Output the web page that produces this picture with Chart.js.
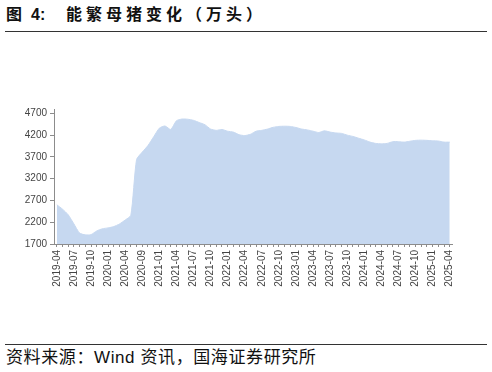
<!DOCTYPE html>
<html>
<head>
<meta charset="utf-8">
<script src="https://cdn.jsdelivr.net/npm/chart.js@4.4.1/dist/chart.umd.min.js"></script>
<style>
  html, body { margin: 0; padding: 0; background: #fff; }
  body { width: 492px; height: 372px; position: relative; overflow: hidden;
         font-family: "Liberation Sans", "Noto Sans CJK SC", sans-serif; }
  .title { position: absolute; top: 5px; font-size: 16px; font-weight: bold; color: #111;
           white-space: nowrap; line-height: 20px;
           font-family: "Liberation Sans", "Noto Sans CJK SC", sans-serif; }
  .rule { position: absolute; left: 5px; width: 482px; height: 1px; background: #333; }
  #source { position: absolute; left: 6px; top: 347px; font-size: 17px; color: #111; white-space: nowrap;
            letter-spacing: 0.6px; line-height: 22px;
            font-family: "Liberation Sans", "Noto Sans CJK SC", sans-serif; }
  #wrap { position: absolute; left: 0; top: 100px; width: 470px; height: 194px; }
</style>
</head>
<body>
<div class="title" style="left:6px">图</div>
<div class="title" style="left:31px">4:</div>
<div class="title" style="left:66px; letter-spacing:4px">能繁母猪变化（万头）</div>
<div class="rule" style="top:31px"></div>
<div id="wrap"><canvas id="sowChart"></canvas></div>
<div class="rule" style="top:344px"></div>
<div id="source">资料来源：Wind 资讯，国海证券研究所</div>

<script>
/* ====== DATA ====== */
const months = [
  '2019-04','2019-05','2019-06','2019-07','2019-08','2019-09','2019-10','2019-11','2019-12',
  '2020-01','2020-02','2020-03','2020-04','2020-06','2020-08','2020-09','2020-10','2020-12',
  '2021-01','2021-02','2021-03','2021-04','2021-05','2021-06','2021-07','2021-08','2021-09',
  '2021-10','2021-11','2021-12','2022-01','2022-02','2022-03','2022-04','2022-05','2022-06',
  '2022-07','2022-08','2022-09','2022-10','2022-11','2022-12','2023-01','2023-02','2023-03',
  '2023-04','2023-05','2023-06','2023-07','2023-08','2023-09','2023-10','2023-11','2023-12',
  '2024-01','2024-02','2024-03','2024-04','2024-05','2024-06','2024-07','2024-08','2024-09',
  '2024-10','2024-11','2024-12','2025-01','2025-02','2025-03','2025-04'
];
const sowStock = [
  2600, 2500, 2370, 2160, 1950, 1910, 1915, 2000, 2050,
  2070, 2100, 2160, 2250, 2360, 3640, 3810, 3960, 4160,
  4360, 4410, 4330, 4530, 4570, 4565, 4540, 4490, 4440,
  4340, 4310, 4330, 4290, 4270, 4210, 4190, 4220, 4290,
  4310, 4340, 4380, 4400, 4405, 4400, 4375, 4340, 4320,
  4290, 4260, 4300, 4270, 4250, 4240, 4200, 4170, 4130,
  4090, 4040, 4010, 4000, 4010, 4050, 4050, 4040, 4060,
  4080, 4085, 4080, 4070, 4065, 4040, 4040
];
const yTicks = [1700, 2200, 2700, 3200, 3700, 4200, 4700];
const labelEvery = 3;

/* ====== CHART ====== */
const axisGrey = '#8c8c8c';
const tickFont = { family: 'Liberation Sans', size: 10 };

new Chart(document.getElementById('sowChart').getContext('2d'), {
  type: 'line',
  data: {
    datasets: [{
      label: '能繁母猪存栏（万头）',
      data: sowStock.map((v, i) => ({ x: i, y: v })),
      borderColor: '#c6d8f0',
      backgroundColor: '#c6d8f0',
      borderWidth: 1,
      fill: 'start',
      pointRadius: 0,
      tension: 0.2
    }]
  },
  options: {
    responsive: true,
    maintainAspectRatio: false,
    animation: false,
    layout: { padding: { top: 8, right: 18, left: 0, bottom: 0 } },
    plugins: { legend: { display: false }, tooltip: { enabled: false } },
    scales: {
      x: {
        type: 'linear',
        min: -0.5,
        max: months.length - 0.6,
        afterBuildTicks: axis => { axis.ticks = months.map((m, i) => ({ value: i })); },
        afterFit: axis => { axis.height = 50; },
        grid: { drawOnChartArea: false, tickLength: 3, color: axisGrey },
        border: { display: true, color: axisGrey, width: 1 },
        ticks: {
          autoSkip: false,
          minRotation: 90,
          maxRotation: 90,
          padding: 3,
          color: '#444',
          font: tickFont,
          callback: v => (v % labelEvery === 0 ? months[v] : '')
        }
      },
      y: {
        min: 1700,
        max: 4800,
        afterBuildTicks: axis => { axis.ticks = yTicks.map(v => ({ value: v })); },
        afterFit: axis => { axis.width = 54; },
        grid: { drawOnChartArea: false, tickLength: 4, color: axisGrey },
        border: { display: true, color: axisGrey, width: 1 },
        ticks: { padding: 3, color: '#444', font: tickFont, callback: v => String(v) }
      }
    }
  }
});
</script>
</body>
</html>
